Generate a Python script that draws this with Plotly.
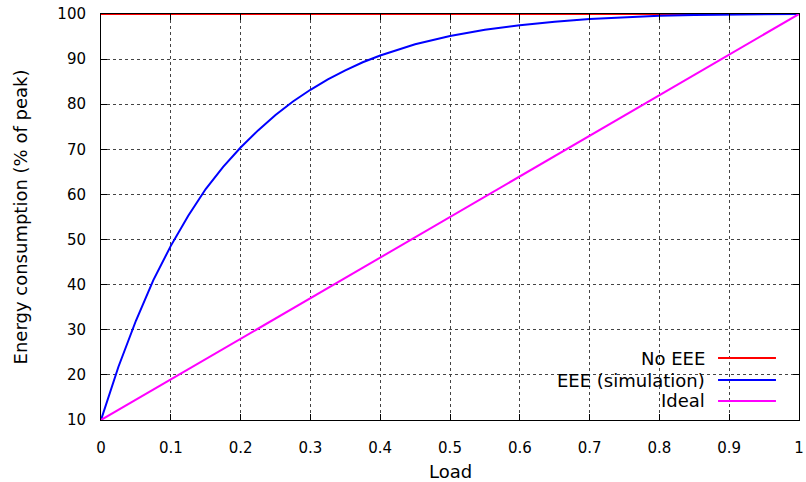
import plotly.graph_objects as go

# Data
load_line = [0.0, 1.0]
no_eee = [100, 100]
ideal = [10, 100]

eee_load = [0.0, 0.025, 0.05, 0.075, 0.1, 0.125, 0.15, 0.175, 0.2, 0.225, 0.25, 0.275,
            0.3, 0.325, 0.35, 0.375, 0.4, 0.45, 0.5, 0.55, 0.6, 0.65, 0.7, 0.75,
            0.8, 0.85, 0.9, 0.95, 1.0]
eee_sim = [10, 21.8, 32.0, 41.0, 48.6, 55.3, 61.2, 66.1, 70.4, 74.2, 77.6, 80.6,
           83.2, 85.5, 87.5, 89.3, 90.8, 93.3, 95.1, 96.5, 97.5, 98.3, 98.9, 99.3,
           99.6, 99.8, 99.9, 100, 100]

x_ticks = [0, 0.1, 0.2, 0.3, 0.4, 0.5, 0.6, 0.7, 0.8, 0.9, 1]
x_tick_labels = ["0", "0.1", "0.2", "0.3", "0.4", "0.5", "0.6", "0.7", "0.8", "0.9", "1"]
y_ticks = [10, 20, 30, 40, 50, 60, 70, 80, 90, 100]

series_names = ["No EEE", "EEE (simulation)", "Ideal"]
series_colors = ["#ff0000", "#0000ff", "#ff00ff"]
x_title = "Load"
y_title = "Energy consumption (% of peak)"

FONT = "DejaVu Sans"

fig = go.Figure()
fig.add_trace(go.Scatter(x=load_line, y=no_eee, mode="lines", name=series_names[0],
                         line=dict(color=series_colors[0], width=2), showlegend=False))
fig.add_trace(go.Scatter(x=eee_load, y=eee_sim, mode="lines", name=series_names[1],
                         line=dict(color=series_colors[1], width=2),
                         showlegend=False))
fig.add_trace(go.Scatter(x=load_line, y=ideal, mode="lines", name=series_names[2],
                         line=dict(color=series_colors[2], width=2), showlegend=False))

# legend background box (covers grid, like gnuplot key)
fig.add_shape(type="rect", xref="paper", yref="paper", x0=0.594, x1=0.998, y0=0.002, y1=0.18,
              fillcolor="white", line=dict(width=0), layer="between")

# gnuplot-style key: text right-aligned, sample line after it
rows_y = [0.1527, 0.0985, 0.0468]
for name, col, yy in zip(series_names, series_colors, rows_y):
    fig.add_annotation(x=0.868, y=yy, xref="paper", yref="paper", text=name,
                       showarrow=False, xanchor="right", yanchor="middle",
                       font=dict(family=FONT, size=18, color="black"))
    fig.add_shape(type="line", xref="paper", yref="paper", x0=0.884, x1=0.967, y0=yy, y1=yy,
                  line=dict(color=col, width=2))

# x-axis title placed as an annotation
fig.add_annotation(x=0.5, y=-0.127, xref="paper", yref="paper", text=x_title,
                   showarrow=False, xanchor="center", yanchor="middle",
                   font=dict(family=FONT, size=18, color="black"))

axis_common = dict(
    showline=True, linecolor="black", linewidth=1, mirror="allticks",
    ticks="inside", ticklen=6, tickcolor="black", tickwidth=1,
    showgrid=True, gridcolor="#444444", gridwidth=1, griddash="dot",
    zeroline=False, automargin=False, ticklabeloverflow="allow",
    tickfont=dict(family=FONT, size=15, color="black"),
)

fig.update_xaxes(range=[0, 1], tickvals=x_ticks, ticktext=x_tick_labels, ticklabelstandoff=14,
                 **axis_common)
fig.update_yaxes(range=[10, 100], tickvals=y_ticks, ticklabelstandoff=11,
                 title=dict(text=y_title,
                            font=dict(family=FONT, size=18, color="black"), standoff=25),
                 **axis_common)

fig.update_layout(
    width=806, height=482,
    margin=dict(l=101, r=7, t=14, b=62),
    plot_bgcolor="white", paper_bgcolor="white",
    font=dict(family=FONT, color="black"),
    showlegend=False,
)

# remove the default page margin so the figure fills the window exactly
fig.write_html("out.html", config={"displayModeBar": False},
               post_script="document.body.style.margin='0';document.body.style.overflow='hidden';")
